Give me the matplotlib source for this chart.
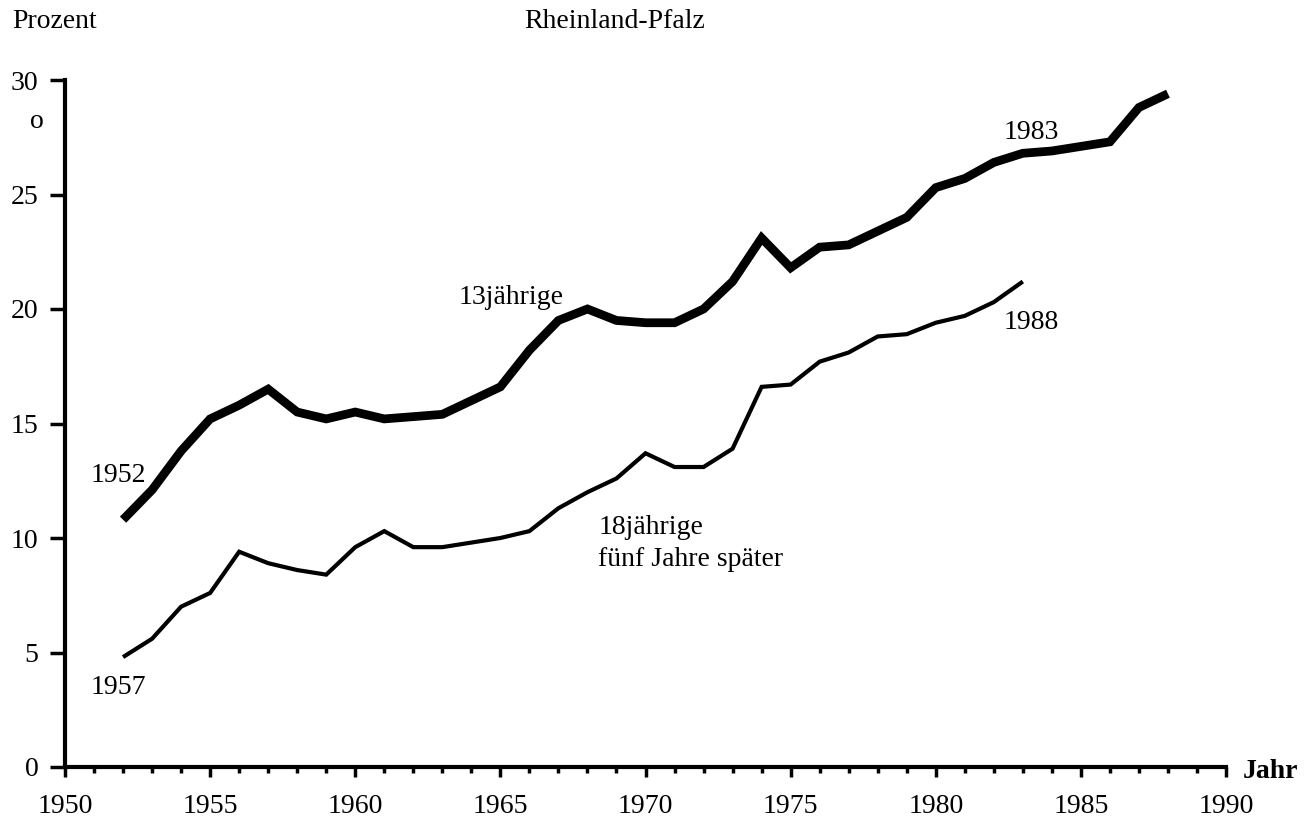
"""Rheinland-Pfalz: share of 13-year-olds vs. 18-year-olds five years later.

Renders a single line chart to ``out.png``.
"""

from __future__ import annotations

import matplotlib.pyplot as plt
from matplotlib.ticker import MultipleLocator

FONT = "Liberation Serif"
FONT_SIZE = 20

# Year in which the cohort was 13 (x-axis), 1952..1988
YEARS_13 = list(range(1952, 1989))
SHARE_13 = [
    10.8, 12.1, 13.8, 15.2, 15.8, 16.5, 15.5, 15.2, 15.5, 15.2,
    15.3, 15.4, 16.0, 16.6, 18.2, 19.5, 20.0, 19.5, 19.4, 19.4,
    20.0, 21.2, 23.1, 21.8, 22.7, 22.8, 23.4, 24.0, 25.3, 25.7,
    26.4, 26.8, 26.9, 27.1, 27.3, 28.8, 29.4,
]

# Same cohorts at 18 (i.e. 1957..1988), plotted at the year they were 13
YEARS_18 = list(range(1952, 1984))
SHARE_18 = [
    4.8, 5.6, 7.0, 7.6, 9.4, 8.9, 8.6, 8.4, 9.6, 10.3,
    9.6, 9.6, 9.8, 10.0, 10.3, 11.3, 12.0, 12.6, 13.7, 13.1,
    13.1, 13.9, 16.6, 16.7, 17.7, 18.1, 18.8, 18.9, 19.4, 19.7,
    20.3, 21.2,
]

X_TICKS = list(range(1950, 1991, 5))
Y_TICKS = list(range(0, 31, 5))


def render(output: str) -> None:
    fig = plt.figure(figsize=(13.07, 8.23), dpi=100)
    ax = fig.add_axes((65 / 1307, 56 / 823, (1226 - 65) / 1307, (767 - 80) / 823))

    ax.plot(YEARS_13, SHARE_13, color="black", linewidth=6.3,
            solid_joinstyle="miter", solid_capstyle="butt", clip_on=False)
    ax.plot(YEARS_18, SHARE_18, color="black", linewidth=3.0,
            solid_joinstyle="miter", solid_capstyle="butt", clip_on=False)

    ax.set_xlim(1950, 1990)
    ax.set_ylim(0, 30)
    ax.set_xticks(X_TICKS)
    ax.xaxis.set_minor_locator(MultipleLocator(1))
    ax.set_yticks(Y_TICKS)

    for side in ("top", "right"):
        ax.spines[side].set_visible(False)
    for side in ("left", "bottom"):
        ax.spines[side].set_linewidth(3.0)

    ax.tick_params(axis="x", which="major", direction="out", length=7.5,
                   width=2.5, pad=12)
    ax.tick_params(axis="x", which="minor", direction="out", length=4,
                   width=2.5)
    ax.tick_params(axis="y", direction="out", length=11, width=2.5, pad=8)
    for lbl in ax.get_xticklabels() + ax.get_yticklabels():
        lbl.set_fontfamily(FONT)
        lbl.set_fontsize(FONT_SIZE)

    txt = dict(family=FONT, fontsize=FONT_SIZE, color="black")
    ax.text(1951.83, 12.75, "1952", ha="center", va="center", **txt)
    ax.text(1951.83, 3.45, "1957", ha="center", va="center", **txt)
    ax.text(1965.38, 20.5, "13jährige", ha="center", va="center", **txt)
    ax.text(1968.38, 10.45, "18jährige", ha="left", va="center", **txt)
    ax.text(1968.38, 9.05, "fünf Jahre später", ha="left", va="center", **txt)
    ax.text(1983.3, 27.7, "1983", ha="center", va="center", **txt)
    ax.text(1983.3, 19.4, "1988", ha="center", va="center", **txt)

    fig.text(12 / 1307, 1 - 22 / 823, "Prozent", ha="left", va="center", **txt)
    fig.text(615 / 1307, 1 - 22 / 823, "Rheinland-Pfalz", ha="center",
             va="center", **txt)
    fig.text(1270 / 1307, 1 - 772 / 823, "Jahr", ha="center", va="center",
             family=FONT, fontsize=FONT_SIZE, fontweight="bold")
    # small stray circle next to the y axis in the original print
    fig.text(37 / 1307, 1 - 122 / 823, "o", ha="center", va="center",
             family=FONT, fontsize=20)

    fig.savefig(output, dpi=100)
    plt.close(fig)


def main() -> None:
    render("out.png")


if __name__ == "__main__":
    main()
